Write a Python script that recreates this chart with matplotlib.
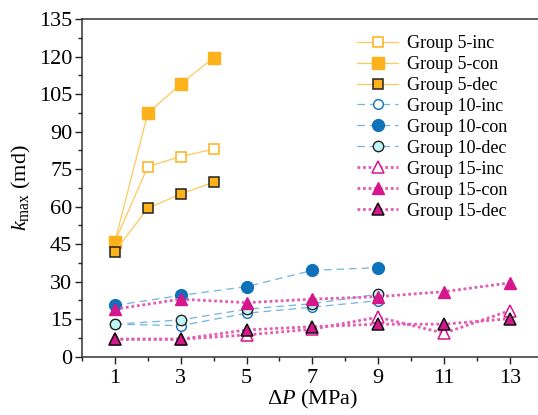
import matplotlib
matplotlib.use("Agg")
import matplotlib.pyplot as plt
from matplotlib.ticker import MultipleLocator

plt.rcParams['font.family'] = ['Liberation Serif', 'DejaVu Serif']
plt.rcParams['mathtext.fontset'] = 'custom'
plt.rcParams['mathtext.rm'] = 'Liberation Serif'
plt.rcParams['mathtext.it'] = 'Liberation Serif:italic'
plt.rcParams['mathtext.bf'] = 'Liberation Serif:bold'

# Data
x5 = [1, 2, 3, 4]
g5_inc = [46, 76, 80, 83]
g5_con = [46, 97.3, 109, 119.5]
g5_dec = [42, 59.4, 65, 69.8]

x10 = [1, 3, 5, 7, 9]
g10_inc = [13, 12.4, 17.4, 19.8, 22.4]
g10_con = [20.5, 24.5, 28, 34.5, 35.6]
g10_dec = [13, 14.7, 19, 21.2, 25]

x15 = [1, 3, 5, 7, 9, 11, 13]
g15_inc = [7, 7, 8.7, 11, 15.8, 9.4, 18.4]
g15_con = [19, 23, 21.6, 23, 24, 26, 29.5]
g15_dec = [7, 7, 10.7, 12, 13, 13, 15.2]

xticks = [1, 3, 5, 7, 9, 11, 13]
yticks = [0, 15, 30, 45, 60, 75, 90, 105, 120, 135]

orange_m = '#FDB11B'
orange_l = '#FFC95C'
blue_m = '#0E72BB'
blue_l = '#72B3E2'
cyan_f = '#BFF6F6'
mag_m = '#D5168C'
mag_l = '#E25CB6'

fig = plt.figure(figsize=(5.38, 4.15), dpi=100)
ax = fig.add_axes([82/538, (415-356.7)/415, 460.6/538, 337.7/415])

lw5 = 0.9
ax.plot(x5, g5_inc, '-', color=orange_l, lw=lw5, marker='s', ms=7, mfc='white',
        mec=orange_m, mew=1.1, label='Group 5-inc')
ax.plot(x5, g5_con, '-', color=orange_l, lw=lw5, marker='s', ms=8, mfc=orange_m,
        mec=orange_m, mew=1.0, label='Group 5-con')
ax.plot(x5, g5_dec, '-', color=orange_l, lw=lw5, marker='s', ms=7, mfc=orange_m,
        mec='#222222', mew=1.1, label='Group 5-dec')

ax.plot(x10, g10_inc, color=blue_l, ls=(0, (6, 4)), lw=0.9, marker='o', ms=7,
        mfc='white', mec=blue_m, mew=1.0, label='Group 10-inc')
ax.plot(x10, g10_con, color=blue_l, ls=(0, (6, 4)), lw=0.9, marker='o', ms=8.5,
        mfc=blue_m, mec=blue_m, mew=1.0, label='Group 10-con')
ax.plot(x10, g10_dec, color=blue_l, ls=(0, (6, 4)), lw=0.9, marker='o', ms=7.5,
        mfc=cyan_f, mec='#222222', mew=1.0, label='Group 10-dec')

ax.plot(x15, g15_inc, color=mag_l, ls=(0, (1, 1)), lw=2.0, marker='^', ms=8,
        mfc='white', mec=mag_m, mew=1.1, label='Group 15-inc')
ax.plot(x15, g15_con, color=mag_l, ls=(0, (1, 1)), lw=2.0, marker='^', ms=9,
        mfc=mag_m, mec=mag_m, mew=1.0, label='Group 15-con')
ax.plot(x15, g15_dec, color=mag_l, ls=(0, (1, 1)), lw=2.0, marker='^', ms=8,
        mfc=mag_m, mec='#111111', mew=1.1, label='Group 15-dec')

ax.set_xlim(0, 14)
ax.set_ylim(0, 135)
ax.set_xticks(xticks)
ax.set_yticks(yticks)
ax.xaxis.set_minor_locator(MultipleLocator(1))
ax.yaxis.set_minor_locator(MultipleLocator(7.5))
ax.tick_params(axis='both', which='major', direction='out', length=5, width=1,
               labelsize=16, colors='#222222', labelcolor='black', pad=4)
ax.tick_params(axis='both', which='minor', direction='out', length=3, width=1,
               colors='#222222')
ax.tick_params(axis='y', pad=2)
for lab in ax.get_xticklabels() + ax.get_yticklabels():
    lab.set_fontfamily('Liberation Serif')
for s in ['left', 'bottom', 'top', 'right']:
    ax.spines[s].set_linewidth(1.1)
    ax.spines[s].set_color('#333333')

ax.set_xlabel(r'$\mathrm{\Delta}\mathit{P}\ \mathrm{(MPa)}$', fontsize=16, labelpad=0)
ax.set_ylabel(r'$\mathit{k}_{\mathrm{max}}\ \mathrm{(md)}$', fontsize=16, labelpad=4)

leg = ax.legend(loc='upper right', bbox_to_anchor=(0.948, 0.985), frameon=False,
                handlelength=2.3, handletextpad=0.5,
                labelspacing=0.22, borderaxespad=0.2,
                prop={'family': 'Liberation Serif', 'size': 13})

fig.savefig('out.png', dpi=100)
